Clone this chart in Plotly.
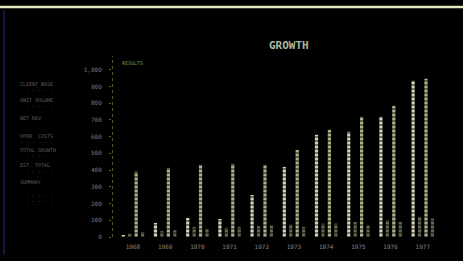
import plotly.graph_objects as go

years = ["1968", "1969", "1970", "1971", "1972", "1973", "1974", "1975", "1976", "1977"]
sales = [12, 84, 114, 108, 251, 419, 611, 629, 719, 934]
units = [20, 35, 60, 55, 65, 75, 80, 90, 100, 120]
revenue = [390, 413, 431, 437, 431, 521, 641, 719, 784, 946]
costs = [30, 40, 50, 60, 70, 60, 80, 70, 90, 110]
y_ticks = [0, 100, 200, 300, 400, 500, 600, 700, 800, 900, 1000]
y_tick_text = ["0", "100", "200", "300", "400", "500", "600", "700", "800", "900", "1,000"]
legend_names = ["CLIENT BASE", "UNIT VOLUME", "NET REVENUE", "OPER COSTS", "TOTAL"]

xs = list(range(len(years)))
FONT = "DejaVu Sans Mono"

def bar(name, vals, color):
    return go.Bar(
        x=xs, y=vals, name=name,
        marker=dict(color=color, line=dict(width=0),
                    pattern=dict(shape="-", fgcolor="#000000", bgcolor=color, size=4, solidity=0.45)),
    )

fig = go.Figure()
fig.add_trace(bar(legend_names[0], sales, "#d2d2b8"))
fig.add_trace(bar(legend_names[1], units, "#66664f"))
fig.add_trace(bar(legend_names[2], revenue, "#b0b088"))
fig.add_trace(bar(legend_names[3], costs, "#5a6a4e"))

fig.update_layout(
    width=463, height=261,
    paper_bgcolor="#000000", plot_bgcolor="#000000",
    margin=dict(l=112, r=8, t=63, b=24),
    barmode="group", bargap=0.2, bargroupgap=0.5,
    showlegend=False,
    font=dict(family=FONT, color="#9a9a88", size=6),
    xaxis=dict(range=[-0.65, 10], tickvals=xs, ticktext=years, showgrid=False,
               zeroline=False, showline=False, ticks="", ticklabelstandoff=5,
               tickfont=dict(size=6, color="#8a8a84")),
    yaxis=dict(range=[0, 1040], tickvals=y_ticks, ticktext=y_tick_text, showgrid=False,
               zeroline=False, showline=False, ticks="outside", ticklen=2, tickcolor="#5a5a38",
               ticklabelstandoff=6, tickfont=dict(size=6, color="#7c7c70")),
)

W, H = 463, 261
pw, ph = W - 112 - 8, H - 63 - 24
def px(x):
    return (x - 112) / pw
def py(y):
    return (H - 24 - y) / ph

# title
fig.add_annotation(text="<b>GROWTH</b>", x=px(289), y=py(45), xref="paper", yref="paper",
                   xanchor="center", yanchor="middle",
                   showarrow=False, font=dict(family=FONT, size=11, color="#a8b898"))

# dotted y axis line
fig.add_shape(type="line", xref="x", yref="paper", x0=-0.65, x1=-0.65, y0=0, y1=1.04,
              line=dict(color="#707038", width=1.5, dash="dot"))
# top horizontal rule and left edge line
fig.add_shape(type="line", xref="paper", yref="paper", x0=px(0), x1=px(463), y0=py(7), y1=py(7),
              line=dict(color="#e6e6c0", width=2.5))
fig.add_shape(type="line", xref="paper", yref="paper", x0=px(4), x1=px(4), y0=py(10), y1=py(255),
              line=dict(color="#101840", width=2))

# small label at top of axis
fig.add_annotation(text="RESULTS", x=px(120), y=py(63), xref="paper", yref="paper",
                   xanchor="left", yanchor="middle",
                   showarrow=False, font=dict(family=FONT, size=5, color="#7a9a50"))

# left legend block as text
legend_rows = [
    (84, "CLIENT BASE"), (90, "- - - - - -"),
    (100, "UNIT VOLUME"), (106, "- - - - - -"),
    (118, "NET REV"),
    (136, "OPER  COSTS"), (142, "- - - - - -"),
    (150, "TOTAL GROWTH"), (156, "- - - - -"),
    (165, "EST. TOTAL"), (171, "- - - - - -"),
    (182, "SUMMARY"),
    (195, "- - - - - -"), (201, "- - - - - -"),
]
for yy, t in legend_rows:
    fig.add_annotation(text=t, x=px(18), y=py(yy), xref="paper", yref="paper",
                       xanchor="left", yanchor="middle",
                       showarrow=False, font=dict(family=FONT, size=5, color="#5e5e56"))

fig.write_html("out.html", config={"displayModeBar": False},
               post_script="document.body.style.margin='0';document.body.style.background='#000';")
